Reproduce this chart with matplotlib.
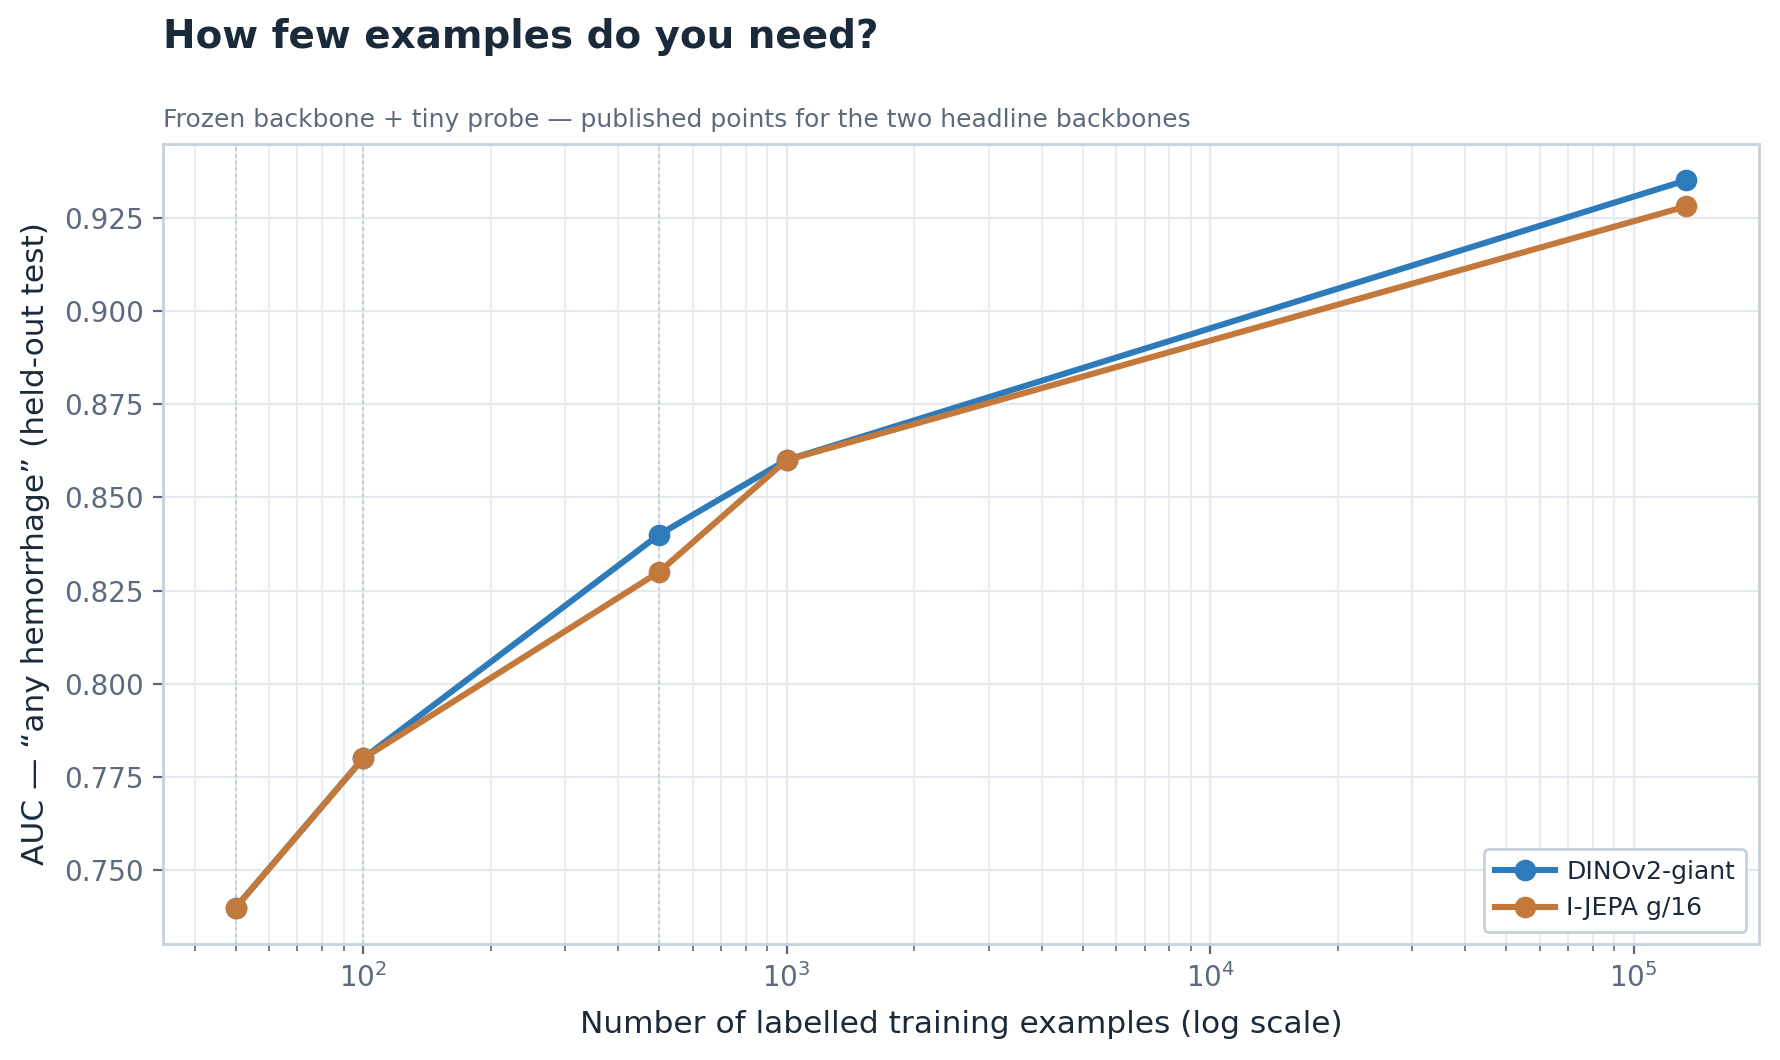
import matplotlib
matplotlib.use("Agg")
import matplotlib.pyplot as plt
from matplotlib.ticker import LogLocator

# Data
n_examples = [50, 100, 500, 1000, 133000]
dinov2_auc = [0.740, 0.780, 0.840, 0.860, 0.935]
ijepa_auc = [0.740, 0.780, 0.830, 0.860, 0.928]
marked_x = [50, 100, 500]
series_labels = ["DINOv2-giant", "I-JEPA g/16"]

title = "How few examples do you need?"
subtitle = "Frozen backbone + tiny probe — published points for the two headline backbones"
xlabel = "Number of labelled training examples (log scale)"
ylabel = "AUC — “any hemorrhage” (held-out test)"

BLUE = "#2e7bbc"
ORANGE = "#c4793c"
DARK = "#1b2a3b"
TICK = "#5b6b7d"
SPINE = "#c6d1dc"
GRID = "#e4e9ef"

plt.rcParams['font.family'] = ['DejaVu Sans']
fig = plt.figure(figsize=(8.9, 5.3), dpi=200)
ax = fig.add_axes([0.0916, 0.1094, 0.8964, 0.7548])

ax.set_xscale("log")
ax.grid(True, which="major", axis="both", color=GRID, lw=0.8, zorder=0)
ax.grid(True, which="minor", axis="x", color=GRID, lw=0.6, zorder=0)
ax.set_axisbelow(True)

for xv in marked_x:
    ax.axvline(xv, color="#bcc7d3", lw=0.6, ls=(0, (2, 2)), zorder=1)

ax.plot(n_examples, dinov2_auc, color=BLUE, lw=2.2, marker="o", ms=6.8,
        label=series_labels[0], zorder=3)
ax.plot(n_examples, ijepa_auc, color=ORANGE, lw=2.2, marker="o", ms=6.8,
        label=series_labels[1], zorder=4)

ax.set_yticks([0.750, 0.775, 0.800, 0.825, 0.850, 0.875, 0.900, 0.925])
ax.yaxis.set_major_formatter(matplotlib.ticker.FormatStrFormatter("%.3f"))
ax.xaxis.set_minor_locator(LogLocator(base=10, subs=range(2, 10), numticks=20))

for s in ax.spines.values():
    s.set_color(SPINE)
    s.set_linewidth(1.0)
ax.tick_params(axis="both", which="major", colors=TICK, labelsize=10, length=3.5, width=0.8)
ax.tick_params(axis="x", which="minor", colors=TICK, length=2.5, width=0.6)
for lbl in ax.get_xticklabels() + ax.get_yticklabels():
    lbl.set_color(TICK)

ax.set_xlabel(xlabel, fontsize=11.25, color=DARK, labelpad=6)
ax.set_ylabel(ylabel, fontsize=11.25, color=DARK, labelpad=5)

leg = ax.legend(loc="lower right", fontsize=9, frameon=True, fancybox=True,
                edgecolor=SPINE, framealpha=1.0, borderpad=0.45,
                handlelength=2.4, handletextpad=0.45)
for t in leg.get_texts():
    t.set_color(DARK)

fig.text(0.0916, 0.965, title, fontsize=14, fontweight="bold", color=DARK,
         ha="left", va="center")
fig.text(0.0916, 0.887, subtitle, fontsize=9, color=TICK, ha="left", va="center")

fig.savefig("out.png", dpi=200)
